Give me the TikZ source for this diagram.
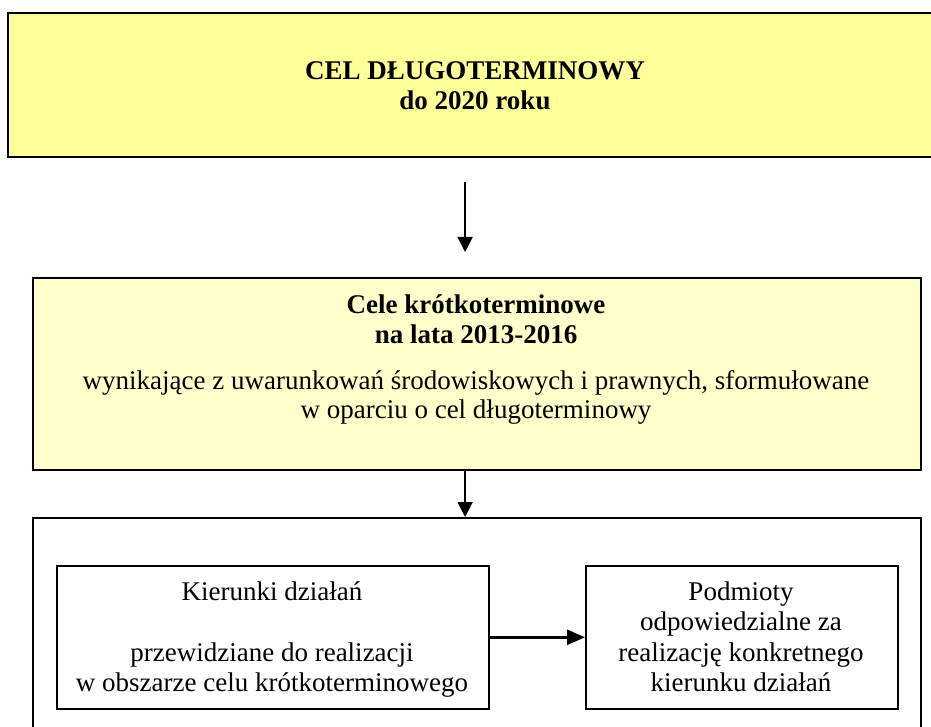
\documentclass[tikz,border=0pt]{standalone}
\usepackage{fontspec}
\setmainfont{Liberation Serif}
\usetikzlibrary{arrows.meta}
\definecolor{ytop}{HTML}{FFFF99}
\definecolor{ymid}{HTML}{FFFFCC}
\begin{document}
\begin{tikzpicture}[x=1pt,y=-1pt,
  bigbox/.style={draw=black, line width=2.2pt, inner sep=0pt, anchor=north west},
  smallbox/.style={draw=black, line width=1.6pt, inner sep=0pt, anchor=north west},
  txt/.style={font=\fontsize{27}{30}\selectfont, anchor=base, inner sep=0pt},
  btxt/.style={txt, font=\fontsize{27}{30}\selectfont\bfseries},
  arr/.style={-{Triangle[length=15pt,width=15pt]}, line width=1.8pt},
  arrh/.style={-{Triangle[length=18pt,width=15pt]}, line width=2.6pt}]
\useasboundingbox (0,0) rectangle (931,727);
\clip (0,0) rectangle (931,727);
% boxes
\node[bigbox, fill=ytop, minimum width=950pt, minimum height=144pt] (top) at (7,12) {};
\node[bigbox, fill=ymid, minimum width=888pt, minimum height=192pt] (mid) at (32,277) {};
\node[smallbox, fill=white, minimum width=888pt, minimum height=260pt] (bot) at (32,517) {};
\node[smallbox, minimum width=432pt, minimum height=143pt] (ka) at (56,565) {};
\node[smallbox, minimum width=312pt, minimum height=143pt] (kb) at (585,565) {};
% texts
\node[btxt] (t1) at (475,80) {CEL DŁUGOTERMINOWY};
\node[btxt] (t2) at (475,110) {do 2020 roku};
\node[btxt] (m1) at (476,313) {Cele krótkoterminowe};
\node[btxt] (m2) at (476,343) {na lata 2013-2016};
\node[txt] (m3) at (476,389) {wynikające z uwarunkowań środowiskowych i prawnych, sformułowane};
\node[txt] (m4) at (476,418) {w oparciu o cel długoterminowy};
\node[txt] (a1) at (272,600) {Kierunki działań};
\node[txt] (a2) at (272,661) {przewidziane do realizacji};
\node[txt] (a3) at (272,691) {w obszarze celu krótkoterminowego};
\node[txt] (b1) at (741,600) {Podmioty};
\node[txt] (b2) at (741,630) {odpowiedzialne za};
\node[txt] (b3) at (741,661) {realizację konkretnego};
\node[txt] (b4) at (741,691) {kierunku działań};
% connectors
\coordinate (ax) at ([xshift=-12pt]mid.north);
\draw[arr, shorten <=24pt, shorten >=25pt] (top.south -| ax) -- (ax);
\draw[arr] (mid.south -| ax) -- (bot.north -| ax);
\draw[arrh] (ka.east) -- (kb.west);
\end{tikzpicture}
\end{document}
